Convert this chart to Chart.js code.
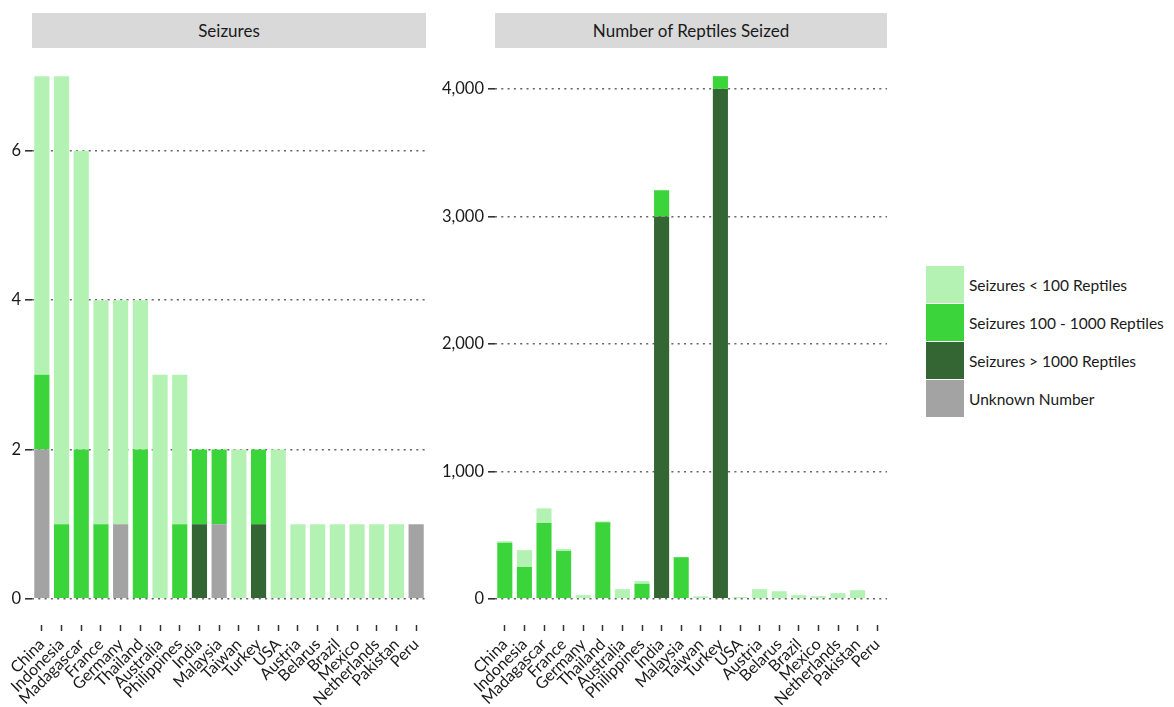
<!DOCTYPE html>
<html>
<head>
<meta charset="utf-8">
<script src="https://cdn.jsdelivr.net/npm/chart.js@4.4.1/dist/chart.umd.min.js"></script>
<style>
  body { margin: 0; background: #fff; font-family: Lato, "Open Sans", sans-serif; }
  #wrap { position: relative; width: 1174px; height: 707px; }
  .strip { position: absolute; top: 13px; height: 35px; background: #d9d9d9; color: #1a1a1a; font-size: 17px; line-height: 35px; text-align: center; }
  .panel { position: absolute; top: 48px; height: 659px; }
  #legend { position: absolute; left: 926px; top: 266px; }
  .key { display: flex; align-items: center; height: 38px; font-size: 15.5px; color: #1a1a1a; }
  .swatch { width: 38px; height: 37px; margin-right: 5px; border-bottom: 1px solid #fff; }
</style>
</head>
<body>
<div id="wrap">
  <div class="strip" style="left:32px;width:394px;">Seizures</div>
  <div class="strip" style="left:495px;width:392px;">Number of Reptiles Seized</div>
  <div class="panel" style="left:0;width:440px;"><canvas id="seizChart"></canvas></div>
  <div class="panel" style="left:440px;width:460px;"><canvas id="reptChart"></canvas></div>
  <div id="legend"></div>
</div>
<script>
const countries = ["China", "Indonesia", "Madagascar", "France", "Germany", "Thailand", "Australia", "Philippines", "India", "Malaysia", "Taiwan", "Turkey", "USA", "Austria", "Belarus", "Brazil", "Mexico", "Netherlands", "Pakistan", "Peru"];

// number of seizures per size class
const seizLow     = [4, 6, 4, 3, 3, 2, 3, 2, 0, 0, 2, 0, 2, 1, 1, 1, 1, 1, 1, 0];
const seizMid     = [1, 1, 2, 1, 0, 2, 0, 1, 1, 1, 0, 1, 0, 0, 0, 0, 0, 0, 0, 0];
const seizHigh    = [0, 0, 0, 0, 0, 0, 0, 0, 1, 0, 0, 1, 0, 0, 0, 0, 0, 0, 0, 0];
const seizUnknown = [2, 0, 0, 0, 1, 0, 0, 0, 0, 1, 0, 0, 0, 0, 0, 0, 0, 0, 0, 1];

// number of reptiles seized per size class
const reptLow     = [12, 132, 115, 14, 29, 8, 76, 21, 0, 0, 20, 0, 14, 76, 60, 29, 21, 45, 68, 0];
const reptMid     = [440, 250, 595, 376, 0, 600, 0, 118, 205, 327, 0, 100, 0, 0, 0, 0, 0, 0, 0, 0];
const reptHigh    = [0, 0, 0, 0, 0, 0, 0, 0, 3000, 0, 0, 4000, 0, 0, 0, 0, 0, 0, 0, 0];
const reptUnknown = [0, 0, 0, 0, 0, 0, 0, 0, 0, 0, 0, 0, 0, 0, 0, 0, 0, 0, 0, 0];

const seizTicks = [0, 2, 4, 6];
const reptTicks = [0, 1000, 2000, 3000, 4000];

const classNames = ["Seizures < 100 Reptiles", "Seizures 100 - 1000 Reptiles", "Seizures > 1000 Reptiles", "Unknown Number"];
const classColors = ["#b3f2b3", "#3bd53b", "#336633", "#a3a3a3"];

const FONT = "Lato, 'Open Sans', sans-serif";

// legend
const legend = document.getElementById("legend");
classNames.forEach((name, i) => {
  const row = document.createElement("div");
  row.className = "key";
  row.innerHTML = '<div class="swatch" style="background:' + classColors[i] + '"></div><span>' + name + "</span>";
  legend.appendChild(row);
});

function makeChart(id, low, mid, high, unknown, ticks, yMin, yMax, yWidth, padRight) {
  // stacking order bottom -> top: unknown, >1000, 100-1000, <100
  const datasets = [
    { label: classNames[3], data: unknown, backgroundColor: classColors[3] },
    { label: classNames[2], data: high, backgroundColor: classColors[2] },
    { label: classNames[1], data: mid, backgroundColor: classColors[1] },
    { label: classNames[0], data: low, backgroundColor: classColors[0] },
  ];
  datasets.forEach((d) => {
    d.borderWidth = 0;
    d.barPercentage = 0.77;
    d.categoryPercentage = 1;
  });

  new Chart(document.getElementById(id), {
    type: "bar",
    data: { labels: countries, datasets: datasets },
    options: {
      responsive: true,
      maintainAspectRatio: false,
      animation: false,
      layout: { padding: { top: 2, right: padRight, left: 0, bottom: 0 } },
      plugins: { legend: { display: false }, tooltip: { enabled: false } },
      scales: {
        x: {
          stacked: true,
          afterFit: (axis) => {
            axis.height = 82;
            axis.paddingLeft = 0;
            axis.paddingRight = 0;
          },
          border: { display: false },
          grid: {
            offset: false,
            drawOnChartArea: false,
            drawTicks: true,
            tickLength: 6,
            tickWidth: 1.5,
            tickColor: "#333",
          },
          ticks: {
            autoSkip: false,
            maxRotation: 45,
            minRotation: 45,
            padding: 4,
            color: "#1a1a1a",
            font: { family: FONT, size: 16 },
          },
        },
        y: {
          stacked: true,
          min: yMin,
          max: yMax,
          z: 1,
          afterFit: (axis) => {
            axis.width = yWidth;
            axis.paddingTop = 0;
            axis.paddingBottom = 0;
          },
          afterBuildTicks: (axis) => { axis.ticks = ticks.map((v) => ({ value: v })); },
          border: { display: false, dash: [2, 4.3] },
          grid: {
            color: "rgba(60,60,60,0.8)",
            lineWidth: 1.6,
            tickLength: 7,
            tickWidth: 1.6,
            tickColor: "#333",
            tickBorderDash: [],
          },
          ticks: {
            padding: 4,
            color: "#1a1a1a",
            font: { family: FONT, size: 16.5 },
            callback: (v) => v.toLocaleString("en-US"),
          },
        },
      },
    },
  });
}

makeChart("seizChart", seizLow, seizMid, seizHigh, seizUnknown, seizTicks, -0.35, 7.35, 32, 14);
makeChart("reptChart", reptLow, reptMid, reptHigh, reptUnknown, reptTicks, -205, 4305, 55, 13);
</script>
</body>
</html>
